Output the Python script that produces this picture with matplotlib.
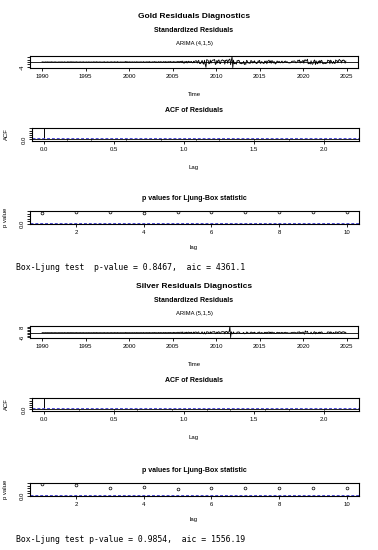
import numpy as np
import matplotlib
matplotlib.use("Agg")
import matplotlib.pyplot as plt

# ---------------- data ----------------
start_year = 1990
freq = 12

gold_resid = [
    0.25,-0.15,0.10,-0.30,0.20,0.05,-0.10,0.28,-0.22,0.14,-0.08,0.18,
    -0.20,0.26,-0.10,0.16,-0.24,0.08,0.22,-0.14,0.04,-0.26,0.18,-0.06,
    0.12,-0.18,0.24,-0.08,0.16,-0.28,0.10,0.20,-0.12,0.06,-0.22,0.26,
    -0.14,0.30,-0.20,0.12,0.36,-0.24,0.18,-0.10,0.28,-0.32,0.08,0.16,
    0.20,-0.12,0.06,-0.24,0.22,0.10,-0.18,0.14,-0.06,0.24,-0.16,0.04,
    -0.10,0.18,-0.22,0.08,0.14,-0.12,0.20,-0.26,0.10,0.04,-0.14,0.22,
    0.16,-0.24,0.12,0.26,-0.10,0.18,-0.20,0.08,0.22,-0.16,0.06,-0.28,
    0.24,-0.14,0.30,-0.36,0.12,-0.18,0.26,-0.22,0.16,-0.32,0.20,-0.10,
    0.28,-0.20,0.14,-0.26,0.32,-0.12,0.18,-0.30,0.36,-0.16,0.10,-0.24,
    0.18,-0.28,0.22,-0.14,0.10,-0.24,0.16,0.44,-0.36,0.50,-0.30,0.14,
    -0.20,0.34,-0.26,0.16,-0.22,0.28,-0.14,0.10,0.24,-0.32,0.18,0.26,
    -0.16,0.12,-0.24,0.30,-0.10,0.20,-0.18,0.08,0.36,-0.28,0.14,-0.12,
    0.26,-0.18,0.32,-0.22,0.40,-0.30,0.16,-0.24,0.28,-0.14,0.20,0.34,
    0.30,-0.44,0.24,-0.36,0.20,0.32,-0.28,0.38,-0.16,0.26,-0.40,0.22,
    0.36,-0.28,0.44,-0.50,0.32,-0.24,0.40,-0.20,0.30,0.48,-0.38,0.26,
    -0.35,0.45,-0.30,0.35,-0.40,0.30,-0.25,0.50,0.40,-0.45,0.55,0.45,
    0.65,-0.55,0.85,-0.70,-0.95,0.60,-0.50,0.65,-0.80,0.40,0.70,-0.35,
    0.50,-0.40,0.55,-0.50,-0.65,0.70,-0.55,0.80,1.10,0.95,-0.85,0.65,
    1.45,-1.10,-1.35,-0.95,0.90,1.20,-1.30,-1.75,1.50,-1.90,-4.40,2.00,
    1.75,1.35,-1.50,-1.10,1.65,-0.95,0.80,1.30,1.90,1.45,2.20,-2.05,
    -1.45,1.30,-0.80,1.50,1.75,-1.10,-1.35,1.20,1.60,1.85,0.95,1.45,
    -1.75,1.50,1.30,1.90,-1.10,1.35,2.05,2.50,-2.20,1.10,4.70,-4.60,
    1.60,-1.45,-1.10,-0.95,-1.75,1.30,0.80,1.50,1.10,-1.30,-0.95,-1.45,
    -0.80,-1.10,0.65,-2.10,-1.30,-1.90,1.45,0.95,-0.80,-0.65,-0.95,-1.10,
    1.30,0.95,-0.80,0.50,-0.65,1.10,-0.50,-0.80,-1.30,-0.65,0.95,0.50,
    1.45,-1.10,-0.80,0.50,-0.65,-0.80,-1.30,0.80,-0.50,0.95,-1.45,0.65,
    0.95,1.60,-0.65,0.95,-1.10,1.30,0.65,-0.80,0.50,-0.95,-1.60,-0.80,
    0.80,0.65,-0.50,0.65,-0.50,-0.65,0.50,0.80,-0.65,-0.50,0.35,0.65,
    0.80,-0.50,0.35,-0.50,-0.65,-0.80,-0.50,-0.65,0.35,0.80,0.50,0.80,
    0.95,0.50,-0.65,-0.50,0.50,1.60,0.65,1.75,-0.80,0.50,-0.35,0.80,
    1.45,-0.95,1.60,1.90,0.80,1.30,2.40,-1.45,-1.10,-0.95,-1.60,1.10,
    -1.30,-1.90,-0.95,1.10,1.75,-2.10,0.95,-1.10,-1.45,0.80,-0.95,1.30,
    -0.80,1.45,1.10,-1.30,-1.45,-0.95,-1.10,-1.30,-0.95,-0.80,1.60,1.10,
    1.30,-1.45,1.60,0.80,-0.95,-1.10,0.65,-0.80,-1.30,1.75,0.95,1.10,
    -0.65,1.30,2.20,1.45,0.95,-0.80,1.60,1.10,1.75,1.30,-0.95,0.80,
]

silver_resid = [
    0.20,-0.14,0.10,-0.24,0.16,0.06,-0.10,0.22,-0.18,0.12,-0.08,0.16,
    -0.18,0.22,-0.10,0.14,-0.20,0.08,0.18,-0.12,0.04,-0.22,0.16,-0.06,
    0.10,-0.16,0.20,-0.08,0.14,-0.24,0.10,0.18,-0.10,0.06,-0.20,0.22,
    -0.12,0.26,-0.18,0.10,0.30,-0.20,0.16,-0.10,0.24,-0.28,0.08,0.14,
    0.18,-0.10,0.06,-0.20,0.20,0.10,-0.16,0.12,-0.06,0.20,-0.14,0.04,
    -0.10,0.16,-0.20,0.08,0.12,-0.10,0.18,-0.22,0.10,0.04,-0.12,0.20,
    0.14,-0.20,0.10,0.24,-0.10,0.16,-0.18,0.08,0.20,-0.14,0.06,-0.24,
    0.20,-0.12,0.26,-0.30,0.10,-0.16,0.22,-0.20,0.14,-0.28,0.18,-0.10,
    0.24,-0.18,0.12,-0.22,0.28,-0.10,0.16,-0.26,0.30,-0.14,0.10,-0.20,
    0.16,-0.24,0.20,-0.12,0.10,-0.20,0.14,0.36,-0.30,0.40,-0.24,0.12,
    -0.18,0.28,-0.22,0.14,-0.20,0.24,-0.12,0.10,0.20,-0.28,0.16,0.22,
    -0.14,0.10,-0.20,0.26,-0.10,0.18,-0.16,0.08,0.30,-0.24,0.12,-0.10,
    0.22,-0.16,0.28,-0.20,0.34,-0.26,0.14,-0.20,0.24,-0.12,0.18,0.30,
    0.26,-0.36,0.20,-0.30,0.18,0.28,-0.24,0.32,-0.14,0.22,-0.34,0.20,
    0.35,-0.30,0.40,-0.45,0.32,-0.26,0.38,-0.22,0.30,0.40,-0.35,0.26,
    -0.45,0.55,-0.35,0.45,-0.50,0.40,-0.30,0.60,0.50,-0.55,0.65,0.50,
    0.80,-0.70,1.05,-0.90,-1.10,0.70,-0.65,0.80,-0.95,0.50,0.90,-0.40,
    0.65,-0.50,0.70,-0.55,-0.80,0.90,-0.70,0.95,0.80,0.70,-0.90,0.65,
    1.10,-0.95,-1.30,-0.90,0.80,1.05,-1.10,-1.45,0.95,-1.60,-1.35,1.30,
    1.20,0.95,-1.10,-0.80,1.30,-0.70,0.65,0.95,1.35,1.10,1.45,-1.30,
    -1.10,0.95,-0.65,1.20,1.30,-0.90,-0.95,0.90,1.30,1.45,1.10,1.35,
    -1.45,1.30,1.50,1.75,-1.10,0.95,1.45,8.60,-6.60,1.30,-1.10,-1.45,
    1.10,-0.95,-0.80,-0.70,-1.30,0.95,0.65,1.10,0.80,-0.95,-0.70,-1.05,
    -0.65,-0.80,0.50,-1.45,-0.90,-1.30,0.95,0.70,-0.65,-0.50,-0.70,-0.80,
    0.90,0.70,-0.65,0.40,-0.50,0.80,-0.40,-0.65,-0.95,-0.50,0.70,0.40,
    0.95,-0.80,-0.65,0.40,-0.50,-0.55,-0.90,0.65,-0.40,0.70,-0.95,0.50,
    0.70,1.10,-0.50,0.70,-0.80,0.90,0.50,-0.65,0.40,-0.70,-1.10,-0.55,
    0.55,0.50,-0.40,0.50,-0.40,-0.50,0.40,0.55,-0.50,-0.40,0.25,0.50,
    0.55,-0.40,0.25,-0.40,-0.50,-0.55,-0.40,-0.50,0.25,0.55,0.40,0.55,
    0.65,0.40,-0.50,-0.40,0.40,1.10,0.50,1.30,-0.65,0.40,-0.25,0.55,
    0.95,-0.80,-1.90,2.60,0.80,1.10,2.00,-1.10,-0.95,-0.80,-1.30,0.90,
    -0.95,-1.45,-0.70,0.90,1.35,-1.60,0.70,-0.90,-1.10,0.65,-0.70,0.95,
    -0.65,1.10,0.90,-0.95,-1.10,-0.70,-0.90,-0.95,-0.70,-0.65,1.20,0.90,
    0.95,-1.10,1.20,0.65,-0.70,-0.90,0.50,-0.65,-0.95,1.35,0.70,0.90,
    -0.50,0.95,1.45,1.10,0.70,-0.65,1.20,0.90,1.35,0.95,-0.70,0.65,
]

gold_acf = [1.0, 0.01, -0.02, 0.03, -0.01, 0.02, 0.04, -0.03, 0.01, 0.05, -0.02,
            0.03, 0.06, -0.04, 0.02, -0.01, 0.03, 0.02, -0.05, 0.04, 0.01, -0.02,
            0.03, 0.05, -0.03, 0.02, 0.01]
silver_acf = [1.0, 0.00, 0.03, -0.04, 0.02, 0.05, -0.02, 0.01, -0.03, 0.04, 0.02,
              -0.05, 0.03, 0.01, -0.02, 0.04, -0.03, 0.02, 0.05, -0.01, 0.03, -0.04,
              0.02, 0.01, -0.03, 0.04, 0.02]
gold_clim = 0.0956
silver_clim = 0.0956

lb_lags = [1, 2, 3, 4, 5, 6, 7, 8, 9, 10]
gold_pvals = [0.85, 0.93, 0.93, 0.87, 0.93, 0.95, 0.95, 0.95, 0.95, 0.95]
silver_pvals = [0.985, 0.87, 0.60, 0.72, 0.54, 0.63, 0.60, 0.63, 0.60, 0.63]

time_ticks = [1990, 1995, 2000, 2005, 2010, 2015, 2020, 2025]
acf_ticks = [0.0, 0.5, 1.0, 1.5, 2.0]
lag_ticks = [2, 4, 6, 8, 10]

gold_yticks = [-4, -2, 0, 2, 4]
gold_ylabels = ['-4', '', '', '', '']
silver_yticks = [-6, -4, -2, 0, 2, 4, 6, 8]
silver_ylabels = ['-6', '', '', '', '', '', '', '8']

gold_title = "Gold Residuals Diagnostics"
silver_title = "Silver Residuals Diagnostics"
gold_model = "ARIMA (4,1,5)"
silver_model = "ARIMA (5,1,5)"
gold_test = "Box-Ljung test  p-value = 0.8467,  aic = 4361.1"
silver_test = "Box-Ljung test p-value = 0.9854,  aic = 1556.19"

# ---------------- figure ----------------
plt.rcParams['font.family'] = ['Liberation Sans', 'DejaVu Sans']
W, H = 378, 550
fig = plt.figure(figsize=(W / 100, H / 100), dpi=100)
BLUE = '#4b4bd6'


def px_axes(x0, y0, x1, y1):
    return fig.add_axes([x0 / W, 1 - y1 / H, (x1 - x0) / W, (y1 - y0) / H])


def ftext(x, y, s, **kw):
    kw.setdefault('ha', 'center')
    kw.setdefault('va', 'center')
    fig.text(x / W, 1 - y / H, s, **kw)


def style(ax):
    for sp in ax.spines.values():
        sp.set_linewidth(0.8)
        sp.set_color('black')
    ax.tick_params(length=2.2, width=0.6, pad=2.2, labelsize=4.3, colors='black')
    ax.tick_params(axis='y', pad=1.5)
    for lbl in ax.get_yticklabels():
        lbl.set_rotation(90)
        lbl.set_va('center')
        lbl.set_ha('right')


def ext(lo, hi):
    r = hi - lo
    return lo - 0.04 * r, hi + 0.04 * r


def half(dy, dy2, title, model, resid, yticks, ylabels, acf, clim, pvals, test):
    cx = 194
    ftext(cx, dy + 17, title, fontsize=6.0, fontweight='bold')
    ftext(cx, dy + 31, "Standardized Residuals", fontsize=5.0, fontweight='bold')
    ftext(cx, dy + 44, model, fontsize=4.2)

    # standardized residuals
    ax = px_axes(30, dy + 56, 358, dy + 68)
    t = start_year + np.arange(len(resid)) / freq
    ax.plot(t, resid, color='black', lw=0.6)
    ax.axhline(0, color='black', lw=0.6)
    ax.set_xlim(*ext(t[0], t[-1]))
    ax.set_ylim(*ext(min(resid), max(resid)))
    ax.set_xticks(time_ticks)
    ax.set_yticks(yticks)
    ax.set_yticklabels(ylabels)
    style(ax)
    ftext(cx, dy + 94, "Time", fontsize=4.3)

    # ACF
    ftext(cx, dy + 111, "ACF of Residuals", fontsize=5.0, fontweight='bold')
    ax = px_axes(32, dy + 128, 359, dy + 141)
    lags = np.arange(len(acf)) / freq
    ax.vlines(lags, 0, acf, color='black', lw=0.7)
    ax.axhline(0, color='black', lw=0.6)
    for c in (clim, -clim):
        ax.axhline(c, color=BLUE, lw=0.7, ls=(0, (3, 2)))
    ax.set_xlim(*ext(lags[0], lags[-1]))
    ax.set_ylim(*ext(min(-clim, min(acf)), max(clim, max(acf))))
    ax.set_xticks(acf_ticks)
    ax.set_xticklabels([f"{v:.1f}" for v in acf_ticks])
    ax.set_yticks([0, 0.2, 0.4, 0.6, 0.8, 1.0])
    ax.set_yticklabels(['0.0', '', '', '', '', ''])
    style(ax)
    ftext(cx, dy + 168, "Lag", fontsize=4.3)
    ftext(6, dy + 134, "ACF", fontsize=4.3, rotation=90)

    # Ljung-Box p-values
    d = dy + dy2
    ftext(cx, d + 199, "p values for Ljung-Box statistic", fontsize=5.0, fontweight='bold')
    ax = px_axes(30, d + 211, 359, d + 224)
    ax.plot(lb_lags, pvals, 'o', mfc='none', mec='black', ms=2.0, mew=0.5)
    ax.axhline(0.05, color=BLUE, lw=0.7, ls=(0, (3, 2)))
    ax.set_xlim(*ext(lb_lags[0], lb_lags[-1]))
    ax.set_ylim(*ext(0, 1))
    ax.set_xticks(lag_ticks)
    ax.set_yticks([0, 0.2, 0.4, 0.6, 0.8, 1.0])
    ax.set_yticklabels(['0.0', '', '', '', '', ''])
    style(ax)
    ftext(cx, d + 248, "lag", fontsize=4.3)
    ftext(6, d + 217, "p value", fontsize=4.3, rotation=90)

    ftext(16, d + 268, test, fontsize=5.9, ha='left', family='DejaVu Sans Mono')


half(0, 0, gold_title, gold_model, gold_resid, gold_yticks, gold_ylabels,
     gold_acf, gold_clim, gold_pvals, gold_test)
half(270, 2, silver_title, silver_model, silver_resid, silver_yticks, silver_ylabels,
     silver_acf, silver_clim, silver_pvals, silver_test)

fig.savefig("out.png", dpi=100)
